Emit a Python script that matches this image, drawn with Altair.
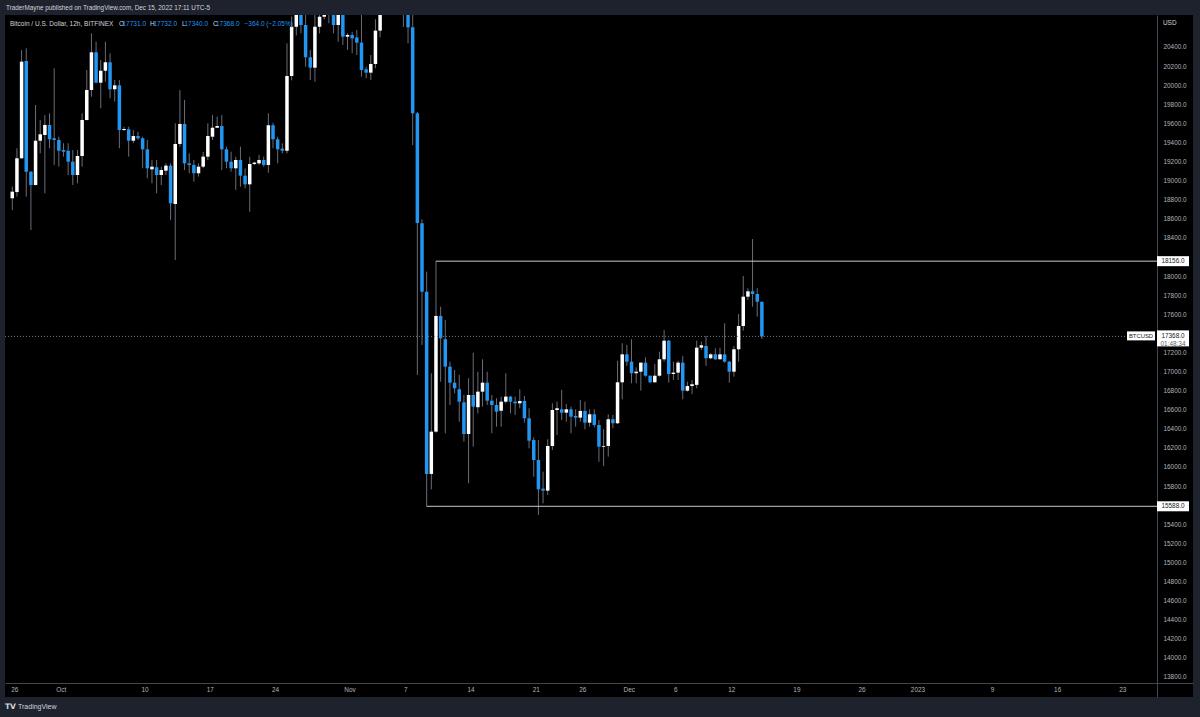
import altair as alt
import pandas as pd

# ---- data (12h BTCUSD candles, Bitfinex) ----
opens = [18815, 18880, 19234, 20253, 19093, 18954, 19418, 19478, 19583, 19444,
         19426, 19321, 19313, 19198, 19059, 19258, 19635, 19949, 20344, 20026,
         20151, 20240, 19957, 19998, 19530, 19538, 19418, 19467, 19443, 19328,
         19118, 19140, 19059, 19104, 19157, 18755, 19384, 19593, 19181, 19164,
         19077, 19146, 19251, 19460, 19554, 19572, 19328, 19198, 19129, 19216,
         19052, 18961, 19174, 19181, 19216, 19164, 19580, 19433, 19335, 19313,
         20096, 20612, 20850, 20630, 20292, 20183, 20612, 20717, 20750, 20800,
         20630, 20800, 20508, 20526, 20500, 20445, 20166, 20131, 20222, 20571,
         20900, 21150, 21250, 21200, 21050, 20780, 20606, 19705, 18553, 17836,
         15927, 16370, 17582, 17338, 17051, 16883, 16814, 16677, 16345, 16754,
         16626, 16789, 16883, 16694, 16649, 16589, 16684, 16737, 16684, 16667,
         16691, 16510, 16282, 16073, 15773, 15752, 16220, 16597, 16604, 16569,
         16604, 16534, 16517, 16587, 16464, 16552, 16440, 16212, 16220, 16500,
         16458, 16887, 17180, 17103, 16982, 16998, 17093, 16956, 16887, 16956,
         17128, 17323, 16974, 16988, 17093, 16799, 16848, 16860, 17250, 17268,
         17139, 17180, 17128, 17180, 17103, 16998, 17233, 17477, 17784, 17840,
         17812, 17731]
highs = [18936, 19339, 20368, 20386, 19100, 19792, 19635, 19687, 19705, 20177,
         19460, 19391, 19391, 19321, 19321, 19705, 20159, 20543, 20455, 20264,
         20455, 20334, 20054, 20054, 19565, 19565, 19530, 19512, 19460, 19426,
         19216, 19216, 19146, 19181, 19181, 19600, 19949, 19845, 19286, 19216,
         19181, 19300, 19600, 19687, 19670, 19687, 19356, 19303, 19251, 19356,
         19129, 19251, 19198, 19269, 19251, 19705, 19607, 19460, 19391, 20438,
         20720, 20900, 20900, 20750, 20369, 20735, 20800, 20850, 20900, 20900,
         20850, 20850, 20543, 20560, 20578, 20735, 20193, 20316, 20690, 21100,
         21300, 21400, 21350, 21300, 21100, 20850, 20735, 19720, 18595, 18046,
         16982, 18156, 17679, 17540, 17103, 17016, 16964, 16754, 16929, 17197,
         16998, 17128, 16998, 16754, 16720, 16737, 16982, 16744, 16737, 16814,
         16744, 16615, 16311, 16282, 15951, 16290, 16667, 16684, 16807, 16660,
         16632, 16604, 16702, 16684, 16604, 16604, 16492, 16395, 16552, 16545,
         17113, 17296, 17278, 17338, 17044, 17093, 17149, 16956, 17079, 17208,
         17435, 17330, 17103, 17113, 17163, 16893, 16911, 17323, 17313, 17372,
         17191, 17243, 17250, 17505, 17110, 17268, 17603, 18001, 17872, 18388,
         17872, 17732]
lows = [18692, 18832, 19230, 18832, 18483, 18950, 19286, 18867, 19339, 19164,
        19146, 19251, 19059, 18954, 18972, 19146, 19630, 19879, 20020, 19758,
        20036, 19862, 19827, 19339, 19520, 19251, 19391, 19426, 19129, 19024,
        18972, 18867, 18954, 19059, 18588, 18168, 19356, 19111, 19077, 18989,
        19042, 19130, 19216, 19426, 19550, 19111, 19129, 19093, 18902, 18936,
        18920, 18674, 19164, 19164, 19146, 19083, 19339, 19181, 19286, 19286,
        20050, 20520, 20543, 20193, 20054, 20036, 20543, 20690, 20648, 20543,
        20455, 20421, 20369, 20334, 20316, 20089, 20072, 20054, 20177, 20500,
        20800, 21050, 21100, 20950, 20610, 20438, 19373, 16964, 17278, 15588,
        15766, 16360, 16893, 16353, 16649, 16772, 16474, 16265, 15829, 16212,
        16562, 16632, 16649, 16353, 16422, 16422, 16667, 16562, 16545, 16615,
        16464, 16195, 15898, 15497, 15619, 15707, 16178, 16335, 16492, 16474,
        16353, 16422, 16474, 16395, 16422, 16416, 16055, 16010, 16108, 16405,
        16450, 16709, 17058, 16877, 16877, 16799, 16946, 16877, 16883, 16946,
        17103, 16883, 16911, 16911, 16709, 16789, 16765, 16824, 17226, 17058,
        17128, 17121, 17128, 17093, 16883, 16946, 17103, 17428, 17750, 17679,
        17575, 17340]
closes = [18884, 19234, 20246, 19093, 18954, 19418, 19485, 19583, 19433, 19426,
          19313, 19303, 19198, 19059, 19258, 19635, 19949, 20344, 20026, 20151,
          20240, 19957, 19998, 19530, 19541, 19418, 19467, 19443, 19328, 19129,
          19146, 19059, 19111, 19157, 18762, 19384, 19593, 19181, 19164, 19077,
          19146, 19251, 19467, 19554, 19572, 19328, 19198, 19129, 19216, 19052,
          18961, 19174, 19188, 19216, 19164, 19580, 19433, 19328, 19313, 20096,
          20612, 20850, 20630, 20292, 20183, 20612, 20717, 20750, 20800, 20630,
          20800, 20508, 20526, 20490, 20445, 20159, 20131, 20222, 20571, 20900,
          21150, 21250, 21200, 21050, 20780, 20606, 19705, 18556, 17836, 15927,
          16370, 17582, 17348, 17051, 16883, 16824, 16684, 16345, 16754, 16632,
          16789, 16883, 16694, 16649, 16579, 16684, 16737, 16684, 16667, 16691,
          16510, 16275, 16073, 15766, 15752, 16220, 16597, 16615, 16569, 16604,
          16527, 16517, 16587, 16464, 16552, 16440, 16212, 16220, 16500, 16458,
          16887, 17180, 17103, 16982, 16998, 17093, 16956, 16887, 16956, 17128,
          17323, 16974, 16988, 17093, 16799, 16848, 16866, 17250, 17275, 17139,
          17180, 17128, 17180, 17103, 16998, 17233, 17477, 17784, 17840, 17812,
          17731, 17368]

first_candle = "2022-09-25 19:00"          # 12h candles, UTC-5 display
level_prices = [18156.0, 15588.0]          # horizontal rays
level_from_candle = [91, 89]               # candle index where each ray starts
last_price = 17368.0
countdown = "01:48:34"
tick_dates = ["2022-09-26", "2022-10-01", "2022-10-10", "2022-10-17", "2022-10-24",
              "2022-11-01", "2022-11-07", "2022-11-14", "2022-11-21", "2022-11-26",
              "2022-12-01", "2022-12-06", "2022-12-12", "2022-12-19", "2022-12-26",
              "2023-01-01", "2023-01-09", "2023-01-16", "2023-01-23"]
# price-scale labels (those hidden under the price boxes are left out)
price_ticks = [p for p in range(13800, 20401, 200) if p not in (15600, 17400, 18200)]
x_domain = ["2022-09-25 13:07", "2023-01-30 01:15"]
y_domain = [13590, 20735]


def ms(s):
    return int((pd.Timestamp(s) - pd.Timestamp("1970-01-01")) / pd.Timedelta("1ms"))


times = pd.date_range(first_candle, periods=len(opens), freq="12h")
t_ms = [ms(t) for t in times]
df = pd.DataFrame({"t": t_ms, "o": opens, "h": highs, "l": lows, "c": closes})
df["dir"] = ["up" if c >= o else "down" for o, c in zip(opens, closes)]

lv = pd.DataFrame({"p": level_prices, "t": [t_ms[i] for i in level_from_candle]})
lp = pd.DataFrame({"p": [last_price]})

FONT = "Liberation Sans"
TXT = "#b2b5be"
BLUE = "#2196f3"
FRAME = "#1e222d"
LINE = "#434651"
AXFS = 6.4

W, H = 1188, 682
AX = 1152  # y-axis line position inside plot

xscale = alt.Scale(type="utc", domain=[ms(d) for d in x_domain], nice=False)
yscale = alt.Scale(domain=y_domain, nice=False, zero=False)

label_expr = ("utcdate(datum.value) == 1 ? (utcmonth(datum.value) == 0 ? "
              "utcFormat(datum.value, '%Y') : utcFormat(datum.value, '%b')) : "
              "utcFormat(datum.value, '%-d')")
xaxis = alt.Axis(values=[ms(d) for d in tick_dates], labelExpr=label_expr, offset=-14,
                 ticks=False, labelPadding=3.5, labelColor=TXT, labelFontSize=AXFS,
                 labelFont=FONT, domainColor=LINE, grid=False, title=None,
                 labelOverlap=False, labelFlush=False, labelBaseline="top")
yaxis = alt.Axis(orient="right", offset=-(W - AX), values=price_ticks, format=".1f",
                 ticks=False, labelPadding=6, labelColor=TXT, labelFontSize=AXFS,
                 labelFont=FONT, domainColor=LINE, grid=False, title=None,
                 labelOverlap=False, labelFlush=False)

X = alt.X("t:T", scale=xscale, axis=xaxis)

wicks = alt.Chart(df).mark_rule(color="#6a6d78", strokeWidth=1, clip=True).encode(
    x=X, y=alt.Y("l:Q", scale=yscale, axis=yaxis), y2="h:Q")

bodies = alt.Chart(df).mark_bar(size=3.5, clip=True).encode(
    x=X, y=alt.Y("o:Q", scale=yscale, axis=yaxis), y2="c:Q",
    color=alt.Color("dir:N", scale=alt.Scale(domain=["up", "down"], range=["#ffffff", BLUE]),
                    legend=None))

levels = alt.Chart(lv).mark_rule(color="#c8cad0", strokeWidth=1).encode(
    x=X, x2=alt.value(AX), y=alt.Y("p:Q", scale=yscale, axis=yaxis))

pline = alt.Chart(lp).mark_rule(color="#787b86", strokeWidth=1, strokeDash=[1, 2]).encode(
    x=alt.value(0), x2=alt.value(AX), y=alt.Y("p:Q", scale=yscale, axis=yaxis))

lvbox = alt.Chart(lv).mark_rect(color="#ffffff", yOffset=-5, y2Offset=5).encode(
    x=alt.value(AX), x2=alt.value(AX + 32), y=alt.Y("p:Q", scale=yscale, axis=yaxis), y2="p:Q")
lvtext = alt.Chart(lv).mark_text(font=FONT, fontSize=AXFS, color="#131722", align="center",
                                 baseline="middle").encode(
    x=alt.value(AX + 16), y=alt.Y("p:Q", scale=yscale, axis=yaxis),
    text=alt.Text("p:Q", format=".1f"))

lpbox = alt.Chart(lp).mark_rect(color="#ffffff", yOffset=-6, y2Offset=10).encode(
    x=alt.value(AX), x2=alt.value(AX + 32), y=alt.Y("p:Q", scale=yscale, axis=yaxis), y2="p:Q")
lptext = alt.Chart(lp).mark_text(font=FONT, fontSize=AXFS, color="#131722", align="center",
                                 baseline="middle").encode(
    x=alt.value(AX + 16), y=alt.Y("p:Q", scale=yscale, axis=yaxis),
    text=alt.Text("p:Q", format=".1f"))
lpcount = alt.Chart(lp).mark_text(font=FONT, fontSize=AXFS, color="#5d606b", align="center",
                                  baseline="middle", dy=8).encode(
    x=alt.value(AX + 16), y=alt.Y("p:Q", scale=yscale, axis=yaxis),
    text=alt.value(countdown))
symbox = alt.Chart(lp).mark_rect(color="#ffffff", yOffset=-5, y2Offset=4).encode(
    x=alt.value(AX - 30), x2=alt.value(AX - 2), y=alt.Y("p:Q", scale=yscale, axis=yaxis), y2="p:Q")
symtext = alt.Chart(lp).mark_text(font=FONT, fontSize=5.9, color="#131722", align="center",
                                  baseline="middle").encode(
    x=alt.value(AX - 16), y=alt.Y("p:Q", scale=yscale, axis=yaxis), text=alt.value("BTCUSD"))

# header / legend / footer texts
hdr = pd.DataFrame({
    "txt": ["TraderMayne published on TradingView.com, Dec 15, 2022 17:11 UTC-5",
            "Bitcoin / U.S. Dollar, 12h, BITFINEX",
            "O", "17731.0", "H", "17732.0", "L", "17340.0", "C", "17368.0",
            "\u2212364.0 (\u22122.05%)", "USD", "TradingView"],
    "x": [1, 5, 114, 117.5, 145, 148.5, 177, 179.5, 208, 211, 239.5, 1158, 13],
    "y": [-7, 9, 9, 9, 9, 9, 9, 9, 9, 9, 9, 8, 692],
    "size": [6.35, 6.5, 6.5, 6.5, 6.5, 6.5, 6.5, 6.5, 6.5, 6.5, 6.5, 6.4, 7.0],
    "col": ["#d1d4dc", "#d1d4dc", "#d1d4dc", BLUE, "#d1d4dc", BLUE, "#d1d4dc", BLUE,
            "#d1d4dc", BLUE, BLUE, "#d1d4dc", "#d1d4dc"],
})
texts = alt.Chart(hdr).mark_text(font=FONT, align="left", baseline="middle").encode(
    x=alt.X("x:Q", scale=None), y=alt.Y("y:Q", scale=None), text="txt:N",
    size=alt.Size("size:Q", scale=None),
    color=alt.Color("col:N", scale=None))
logo = alt.Chart(lp).mark_text(font="DejaVu Sans", fontSize=7.5, fontWeight="bold",
                               color="#d1d4dc", align="left", baseline="middle").encode(
    x=alt.value(0), y=alt.value(692), text=alt.value("TV"))

chart = alt.layer(wicks, bodies, levels, pline, lvbox, lvtext, symbox, symtext,
                  lpbox, lptext, lpcount, texts, logo).properties(
    width=W, height=H,
    padding={"left": 5, "top": 15, "right": 7, "bottom": 20},
    autosize=alt.AutoSizeParams(type="none"),
    background=FRAME,
).configure_view(fill="#000000", stroke=None)

chart.save("out.html", embed_options={"renderer": "svg", "actions": False})
